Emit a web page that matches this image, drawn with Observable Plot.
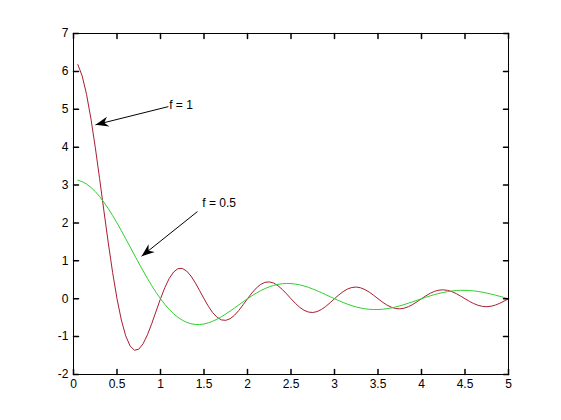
<!DOCTYPE html>
<html>
<head>
<meta charset="utf-8">
<script src="https://cdn.jsdelivr.net/npm/d3@7"></script>
<script src="https://cdn.jsdelivr.net/npm/@observablehq/plot@0.6"></script>
<style>
  html, body { margin: 0; padding: 0; background: #ffffff; }
</style>
</head>
<body>
<div id="chart"></div>
<script>
// x samples
const xs = [0.05,0.10,0.15,0.20,0.25,0.30,0.35,0.40,0.45,0.50,0.55,0.60,0.65,0.70,0.75,0.80,0.85,0.90,0.95,1.00,
1.05,1.10,1.15,1.20,1.25,1.30,1.35,1.40,1.45,1.50,1.55,1.60,1.65,1.70,1.75,1.80,1.85,1.90,1.95,2.00,
2.05,2.10,2.15,2.20,2.25,2.30,2.35,2.40,2.45,2.50,2.55,2.60,2.65,2.70,2.75,2.80,2.85,2.90,2.95,3.00,
3.05,3.10,3.15,3.20,3.25,3.30,3.35,3.40,3.45,3.50,3.55,3.60,3.65,3.70,3.75,3.80,3.85,3.90,3.95,4.00,
4.05,4.10,4.15,4.20,4.25,4.30,4.35,4.40,4.45,4.50,4.55,4.60,4.65,4.70,4.75,4.80,4.85,4.90,4.95,5.00];

// f = 1 series (red)
const seriesF1 = [6.180,5.878,5.393,4.755,4.000,3.170,2.311,1.469,0.687,0.000,-0.562,-0.980,-1.245,-1.359,-1.333,-1.189,-0.952,-0.653,-0.325,0.000,
0.294,0.534,0.703,0.793,0.800,0.732,0.599,0.420,0.213,0.000,-0.199,-0.367,-0.490,-0.559,-0.571,-0.528,-0.437,-0.309,-0.158,0.000,
0.151,0.280,0.376,0.432,0.444,0.414,0.344,0.245,0.126,0.000,-0.121,-0.226,-0.305,-0.352,-0.364,-0.340,-0.284,-0.203,-0.105,0.000,
0.101,0.190,0.257,0.297,0.308,0.288,0.241,0.173,0.090,0.000,-0.087,-0.163,-0.222,-0.257,-0.267,-0.250,-0.210,-0.151,-0.078,0.000,
0.076,0.143,0.195,0.226,0.235,0.221,0.186,0.134,0.069,0.000,-0.068,-0.128,-0.174,-0.202,-0.211,-0.198,-0.167,-0.120,-0.062,0.000];

// f = 0.5 series (green)
const seriesF05 = [3.129,3.090,3.027,2.939,2.828,2.697,2.546,2.378,2.195,2.000,1.796,1.585,1.371,1.156,0.943,0.735,0.534,0.343,0.165,0.000,
-0.149,-0.281,-0.395,-0.490,-0.566,-0.622,-0.660,-0.679,-0.681,-0.667,-0.637,-0.594,-0.540,-0.476,-0.404,-0.327,-0.245,-0.163,-0.080,0.000,
0.076,0.147,0.211,0.267,0.314,0.352,0.379,0.396,0.403,0.400,0.387,0.366,0.336,0.300,0.257,0.210,0.159,0.107,0.053,0.000,
-0.051,-0.100,-0.144,-0.184,-0.218,-0.245,-0.266,-0.280,-0.286,-0.286,-0.278,-0.264,-0.244,-0.219,-0.189,-0.155,-0.118,-0.079,-0.040,0.000,
0.039,0.075,0.109,0.140,0.166,0.188,0.205,0.216,0.222,0.222,0.217,0.207,0.192,0.172,0.149,0.122,0.094,0.063,0.032,0.000];

// tick values
const xTicks = [0,0.5,1,1.5,2,2.5,3,3.5,4,4.5,5];
const yTicks = [-2,-1,0,1,2,3,4,5,6,7];

// annotations
const annLabels = ["f = 1", "f = 0.5"];
const annTextX = [1.10, 1.48];
const annTextY = [5.10, 2.51];
const annTailX = [1.09, 1.425];
const annTailY = [5.07, 2.30];
const annTipX = [0.253, 0.782];
const annTipY = [4.59, 1.12];

const W = 561, H = 420;
const mL = 73, mR = 53, mT = 33, mB = 46;
const xDomain = [0, 5], yDomain = [-2, 7];

const redColor = "#a81e30";
const greenColor = "#2fcf2f";

const rowsF1 = xs.map((x, i) => ({x, y: seriesF1[i]}));
const rowsF05 = xs.map((x, i) => ({x, y: seriesF05[i]}));

const sx = Plot.scale({x: {domain: xDomain, range: [mL, W - mR]}});
const sy = Plot.scale({y: {domain: yDomain, range: [H - mB, mT]}});

const anns = annLabels.map((label, i) => {
  const dx = sx.apply(annTipX[i]) - sx.apply(annTailX[i]);
  const dy = sy.apply(annTipY[i]) - sy.apply(annTailY[i]);
  return {
    label,
    tx: annTextX[i], ty: annTextY[i],
    x1: annTailX[i], y1: annTailY[i],
    x2: annTipX[i], y2: annTipY[i],
    angle: Math.atan2(dy, dx) * 180 / Math.PI
  };
});

// filled, notched arrowhead pointing toward +x with the tip at the origin
const arrowHead = {
  draw(context) {
    context.moveTo(0, 0);
    context.lineTo(-13, -5);
    context.lineTo(-9, 0);
    context.lineTo(-13, 5);
    context.closePath();
  }
};

// plain straight tick (no head)
const tickShape = {
  draw(context, l) {
    context.moveTo(0, 0);
    context.lineTo(0, -l);
  }
};

const plot = Plot.plot({
  width: W,
  height: H,
  marginLeft: mL,
  marginRight: mR,
  marginTop: mT,
  marginBottom: mB,
  x: {domain: xDomain},
  y: {domain: yDomain},
  style: {background: "#ffffff", color: "#000000", fontFamily: "'Liberation Sans', Arial, sans-serif", fontSize: "12px"},
  marks: [
    Plot.line(rowsF1, {x: "x", y: "y", stroke: redColor, strokeWidth: 1}),
    Plot.line(rowsF05, {x: "x", y: "y", stroke: greenColor, strokeWidth: 1}),
    Plot.frame({stroke: "#000000", strokeWidth: 1}),
    Plot.axisX({ticks: xTicks, tickSize: 0, tickPadding: 5, tickFormat: d => String(d), fontSize: 12, label: null}),
    Plot.axisY({ticks: yTicks, tickSize: 0, tickPadding: 5, tickFormat: d => String(d), fontSize: 12, label: null}),
    Plot.vector(xTicks, {x: d => d, y: () => yDomain[0], length: 5, rotate: 0, anchor: "start", shape: tickShape, stroke: "#000000"}),
    Plot.vector(xTicks, {x: d => d, y: () => yDomain[1], length: 5, rotate: 180, anchor: "start", shape: tickShape, stroke: "#000000"}),
    Plot.vector(yTicks, {x: () => xDomain[0], y: d => d, length: 5, rotate: 90, anchor: "start", shape: tickShape, stroke: "#000000"}),
    Plot.vector(yTicks, {x: () => xDomain[1], y: d => d, length: 5, rotate: 270, anchor: "start", shape: tickShape, stroke: "#000000"}),
    Plot.link(anns, {x1: "x1", y1: "y1", x2: "x2", y2: "y2", stroke: "#000000", strokeWidth: 1}),
    Plot.dot(anns, {x: "x2", y: "y2", symbol: arrowHead, rotate: "angle", fill: "#000000", stroke: "none", r: 5}),
    Plot.text(anns, {x: "tx", y: "ty", text: "label", textAnchor: "start", lineAnchor: "middle", fontSize: 12, fill: "#000000"})
  ]
});

document.getElementById("chart").appendChild(plot);
</script>
</body>
</html>
